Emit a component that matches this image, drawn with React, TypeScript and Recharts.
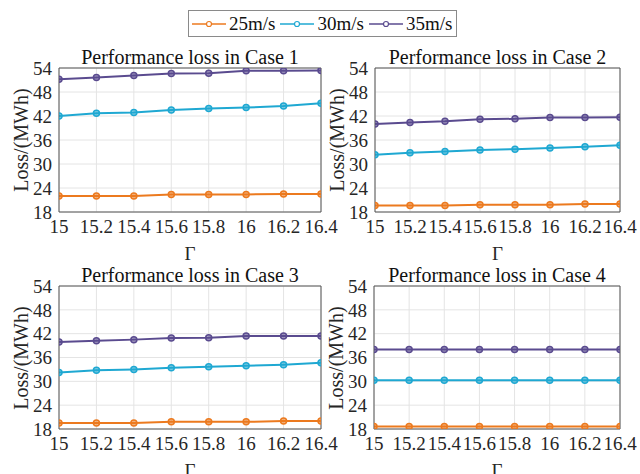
import React from 'react';
import { LineChart, Line, XAxis, YAxis, CartesianGrid, ReferenceLine } from 'recharts';

const gamma = [15, 15.2, 15.4, 15.6, 15.8, 16, 16.2, 16.4];
const yTicks = [18, 24, 30, 36, 42, 48, 54];

const seriesNames = ['25m/s', '30m/s', '35m/s'];
const seriesColors = ['#EC7A1F', '#1FA8D2', '#5A4B8F'];

// Case 1
const case1Low = [22.0, 22.0, 22.0, 22.4, 22.4, 22.4, 22.5, 22.5];
const case1Mid = [42.0, 42.7, 42.9, 43.5, 43.9, 44.1, 44.5, 45.2];
const case1High = [51.2, 51.6, 52.1, 52.6, 52.7, 53.3, 53.3, 53.4];
// Case 2
const case2Low = [19.6, 19.6, 19.6, 19.8, 19.8, 19.8, 20.0, 20.0];
const case2Mid = [32.3, 32.8, 33.1, 33.5, 33.7, 34.0, 34.3, 34.7];
const case2High = [40.0, 40.4, 40.7, 41.2, 41.3, 41.6, 41.6, 41.7];
// Case 3
const case3Low = [19.5, 19.5, 19.5, 19.8, 19.8, 19.8, 20.0, 20.0];
const case3Mid = [32.2, 32.8, 33.0, 33.4, 33.7, 33.9, 34.2, 34.7];
const case3High = [39.9, 40.2, 40.5, 40.9, 41.0, 41.4, 41.4, 41.4];
// Case 4
const case4Low = [18.6, 18.6, 18.6, 18.6, 18.6, 18.6, 18.6, 18.6];
const case4Mid = [30.3, 30.3, 30.3, 30.3, 30.3, 30.3, 30.3, 30.3];
const case4High = [38.0, 38.0, 38.0, 38.0, 38.0, 38.0, 38.0, 38.0];

const FONT = '"Liberation Serif", "Times New Roman", serif';
const AXIS = '#555555';
const TEXT = '#262626';

const buildRows = (low: number[], mid: number[], high: number[]) =>
  gamma.map((g, i) => ({ g, s0: low[i], s1: mid[i], s2: high[i] }));

interface PanelProps {
  readonly title: string;
  readonly rows: { g: number; s0: number; s1: number; s2: number }[];
  readonly px: number;
  readonly py: number;
  readonly pw: number;
  readonly ph: number;
}

const Y_W = 59;
const X_H = 40;
const M_TOP = 14;
const M_RIGHT = 20;

const Panel = ({ title, rows, px, py, pw, ph }: PanelProps) => {
  const cx = px + pw / 2;
  return (
    <>
      <div
        style={{
          position: 'absolute',
          left: cx,
          top: py - 11,
          transform: 'translate(-50%, -50%)',
          fontSize: 20,
          color: '#111',
          whiteSpace: 'nowrap',
        }}
      >
        {title}
      </div>
      <div
        style={{
          position: 'absolute',
          left: px - 38,
          top: py + ph / 2,
          transform: 'translate(-50%, -50%) rotate(-90deg)',
          fontSize: 20,
          color: TEXT,
          whiteSpace: 'nowrap',
        }}
      >
        Loss/(MWh)
      </div>
      <div
        style={{
          position: 'absolute',
          left: cx,
          top: py + ph + 42,
          transform: 'translate(-50%, -50%)',
          fontSize: 19,
          color: TEXT,
        }}
      >
        Γ
      </div>
      <div style={{ position: 'absolute', left: px - Y_W, top: py - M_TOP }}>
        <LineChart
          width={Y_W + pw + M_RIGHT}
          height={M_TOP + ph + X_H}
          data={rows}
          margin={{ top: M_TOP, right: M_RIGHT, left: 0, bottom: 0 }}
        >
          <CartesianGrid stroke="#e4e4e4" />
          <XAxis
            dataKey="g"
            type="number"
            domain={[15, 16.4]}
            ticks={gamma}
            allowDataOverflow
            height={X_H}
            tickLine={false}
            tickSize={5}
            tickMargin={3}
            stroke={AXIS}
            tick={{ fill: TEXT, fontSize: 19, fontFamily: FONT }}
            tickFormatter={(v: number) => String(v)}
            interval={0}
          />
          <YAxis
            type="number"
            domain={[18, 54]}
            ticks={yTicks}
            allowDataOverflow
            width={Y_W}
            tickLine={false}
            tickSize={4}
            tickMargin={3}
            stroke={AXIS}
            tick={{ fill: TEXT, fontSize: 19, fontFamily: FONT }}
            interval={0}
          />
          <ReferenceLine y={54} stroke={AXIS} />
          <ReferenceLine x={16.4} stroke={AXIS} />
          {seriesNames.map((name, i) => (
            <Line
              key={name}
              name={name}
              dataKey={`s${i}`}
              stroke={seriesColors[i]}
              strokeWidth={2}
              dot={{ r: 3, stroke: seriesColors[i], strokeWidth: 1.5, fill: seriesColors[i], fillOpacity: 0.55 }}
              isAnimationActive={false}
            />
          ))}
        </LineChart>
      </div>
    </>
  );
};

const LegendBox = () => (
  <div
    style={{
      position: 'absolute',
      left: 188,
      top: 10,
      width: 269,
      height: 27,
      border: '1px solid #8a8a8a',
      background: '#fff',
      display: 'flex',
      alignItems: 'center',
      paddingLeft: 3,
      boxSizing: 'border-box',
      fontSize: 19,
      color: '#111',
    }}
  >
    {seriesNames.map((name, i) => (
      <div key={name} style={{ display: 'flex', alignItems: 'center', marginRight: 5 }}>
        <svg width={34} height={10}>
          <line x1={0} y1={5} x2={34} y2={5} stroke={seriesColors[i]} strokeWidth={1.5} />
          <circle cx={17} cy={5} r={2.5} fill="#fff" stroke={seriesColors[i]} strokeWidth={1.2} />
        </svg>
        <span style={{ marginLeft: 3 }}>{name}</span>
      </div>
    ))}
  </div>
);

export default function App() {
  return (
    <div
      style={{
        position: 'absolute',
        left: 0,
        top: 0,
        width: 640,
        height: 474,
        background: '#fff',
        overflow: 'hidden',
        fontFamily: FONT,
      }}
    >
      <LegendBox />
      <Panel title="Performance loss in Case 1" rows={buildRows(case1Low, case1Mid, case1High)} px={59} py={68} pw={262} ph={144} />
      <Panel title="Performance loss in Case 2" rows={buildRows(case2Low, case2Mid, case2High)} px={375} py={68} pw={245} ph={144} />
      <Panel title="Performance loss in Case 3" rows={buildRows(case3Low, case3Mid, case3High)} px={59} py={286} pw={262} ph={143} />
      <Panel title="Performance loss in Case 4" rows={buildRows(case4Low, case4Mid, case4High)} px={374} py={286} pw={246} ph={143} />
    </div>
  );
}
